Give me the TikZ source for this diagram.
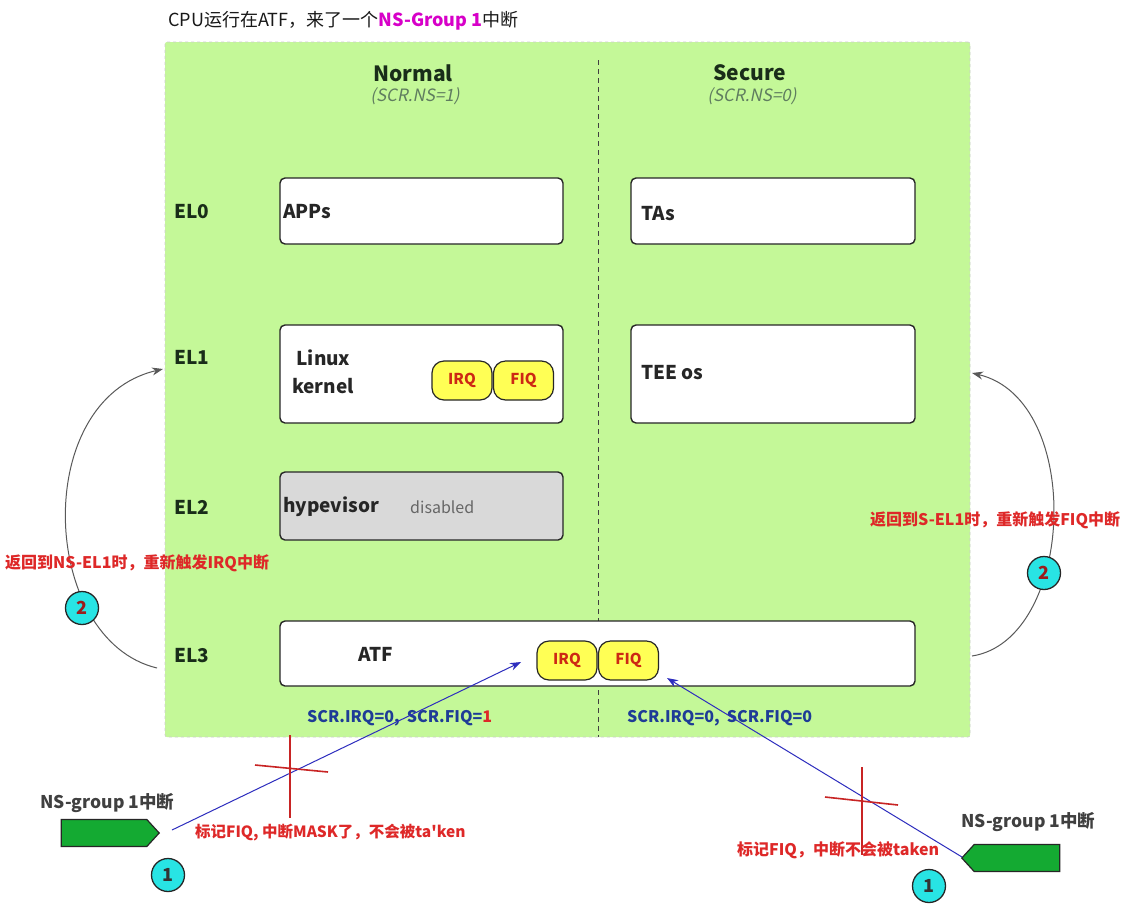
\documentclass[tikz,border=0pt]{standalone}
\usepackage{fontspec}
\setmainfont{Noto Sans CJK SC}[AutoFakeSlant=0.2]
\usetikzlibrary{arrows.meta,shapes.symbols}
\definecolor{panelgreen}{RGB}{196,248,152}
\definecolor{darktxt}{RGB}{25,45,25}
\definecolor{subtxt}{RGB}{95,125,95}
\definecolor{pillyellow}{RGB}{255,255,85}
\definecolor{pilltxt}{RGB}{205,40,20}
\definecolor{bluetxt}{RGB}{30,60,150}
\definecolor{redtxt}{RGB}{222,40,40}
\definecolor{cyanc}{RGB}{40,228,228}
\definecolor{arrowgreen}{RGB}{20,170,50}
\definecolor{hypgray}{RGB}{217,217,217}
\definecolor{lineblue}{RGB}{45,45,190}
\definecolor{magtxt}{RGB}{215,0,200}
\tikzset{
  box/.style={draw=black!85, line width=1.4pt, rounded corners=5pt, fill=white, inner sep=0pt},
  pill/.style={draw=black!85, line width=1.2pt, rounded corners=12pt, fill=pillyellow, text=pilltxt,
    font=\fontsize{15}{15}\selectfont\bfseries, minimum width=60pt, minimum height=39pt, inner sep=0pt},
  ellabel/.style={font=\fontsize{19}{19}\selectfont\bfseries, text=darktxt},
  boxtxt/.style={font=\fontsize{19}{28}\selectfont\bfseries, text=black!85, anchor=west, align=left, inner sep=0pt},
  hdr/.style={font=\fontsize{21}{21}\selectfont\bfseries, text=darktxt},
  subhdr/.style={font=\fontsize{17}{17}\selectfont\itshape, text=subtxt},
  scrtxt/.style={font=\fontsize{16}{16}\selectfont\bfseries, text=bluetxt, anchor=west, inner sep=0pt},
  redlbl/.style={font=\fontsize{16}{16}\selectfont\bfseries, text=redtxt, anchor=west, inner sep=0pt},
  numc/.style={circle, draw=black!85, line width=1.3pt, fill=cyanc, minimum size=33pt, inner sep=0pt,
    font=\fontsize{18}{18}\selectfont\bfseries, text=black!80},
  irqsrc/.style={signal, draw=black!85, line width=1.2pt, fill=arrowgreen, minimum width=98pt,
    minimum height=27pt, inner sep=0pt, signal pointer angle=95},
  srclbl/.style={font=\fontsize{17.5}{17.5}\selectfont\bfseries, text=black!75, anchor=west, inner sep=0pt},
  retarrow/.style={draw=black!65, line width=1pt, -{Stealth[length=11pt,width=8pt]}},
  blarrow/.style={draw=lineblue, line width=1pt, -{Stealth[length=11pt,width=8pt]}},
  cross/.style={draw=redtxt!90!black, line width=1.6pt}
}
\begin{document}
\begin{tikzpicture}[x=1pt,y=-1pt]
\useasboundingbox (0,0) rectangle (1132,906);
\fill[white] (0,0) rectangle (1132,906);
% title
\node[anchor=west, inner sep=0pt, font=\fontsize{18}{18}\selectfont, text=black!90] (title) at (168,21)
  {CPU运行在ATF，来了一个{\bfseries\color{magtxt}NS-Group 1}中断};
% panel
\node[draw=black!20, dashed, line width=0.6pt, fill=panelgreen, minimum width=805pt, minimum height=695pt,
  inner sep=0pt, rounded corners=2pt] (panel) at (567.5,389.5) {};
\draw[black!75, dashed, line width=1pt, dash pattern=on 5pt off 4pt] (598,60) -- (598,737);
% headers
\node[hdr] (normal) at (413,73) {Normal};
\node[subhdr] (normalsub) at (415,96) {(SCR.NS=1)};
\node[hdr] (secure) at (750,73) {Secure};
\node[subhdr] (securesub) at (752,96) {(SCR.NS=0)};
% EL labels
\node[ellabel] (el0) at (192,212) {EL0};
\node[ellabel] (el1) at (192,357) {EL1};
\node[ellabel] (el2) at (192,507) {EL2};
\node[ellabel] (el3) at (192,656) {EL3};
% boxes
\node[box, minimum width=283pt, minimum height=66pt] (apps) at (421.5,211) {};
\node[boxtxt] (appst) at (283,212) {APPs};
\node[box, minimum width=284pt, minimum height=66pt] (tas) at (773,211) {};
\node[boxtxt] (tast) at (641,214) {TAs};
\node[box, minimum width=283pt, minimum height=98pt] (kernel) at (421.5,374) {};
\node[boxtxt] (kernelt) at (292,372) {\ Linux\\kernel};
\node[pill] (kirq) at (462,380.5) {IRQ};
\node[pill] (kfiq) at (523.5,380.5) {FIQ};
\node[box, minimum width=284pt, minimum height=98pt] (tee) at (773,374) {};
\node[boxtxt] (teet) at (641,373) {TEE os};
\node[box, fill=hypgray, minimum width=283pt, minimum height=68pt] (hyp) at (421.5,506) {};
\node[boxtxt] (hypt) at (283,507) {hypevisor};
\node[anchor=west, inner sep=0pt, font=\fontsize{16}{16}\selectfont, text=black!60] (hypd) at (410,507) {disabled};
\node[box, minimum width=635pt, minimum height=65pt] (atf) at (597.5,653.5) {};
\node[boxtxt] (atft) at (358,654) {ATF};
\node[pill] (airq) at (567,660.5) {IRQ};
\node[pill] (afiq) at (628.5,660.5) {FIQ};
% SCR texts
\node[scrtxt] (scrl) at (307,718) {SCR.IRQ=0,\ \ SCR.FIQ={\color{redtxt}1}};
\node[scrtxt] (scrr) at (627,718) {SCR.IRQ=0,\ \ SCR.FIQ=0};
% return arrows
\coordinate (lstart) at (157,668);
\coordinate (lend) at (163,369);
\draw[retarrow] (lstart) .. controls (40,640) and (30,400) .. (lend);
\node[numc] (ltwo) at (82,608) {\textcolor{redtxt!70!black}{2}};
\node[redlbl] (lret) at (5,563) {返回到NS-EL1时，重新触发IRQ中断};
\coordinate (rstart) at (972,656);
\coordinate (rend) at (972,373);
\draw[retarrow] (rstart) .. controls (1075,640) and (1085,400) .. (rend);
\node[numc] (rtwo) at (1044,573) {\textcolor{redtxt!70!black}{2}};
\node[redlbl] (rret) at (870,520) {返回到S-EL1时，重新触发FIQ中断};
% bottom left source
\node[srclbl] (lsrct) at (40,803) {NS-group 1中断};
\node[irqsrc, signal to=east] (lsrc) at (104,833) {};
\node[numc] (lone) at (168,875) {1};
\coordinate (lbs) at (172,830);
\coordinate (lbe) at (521,662);
\draw[blarrow] (lbs) -- (lbe);
\draw[cross] (290,735) -- (290,818);
\draw[cross] (255,765) -- (328,772);
\node[redlbl, font=\fontsize{15.5}{15.5}\selectfont\bfseries] (lmask) at (195,833) {标记FIQ, 中断MASK了，不会被ta{\addfontfeatures{Ligatures=TeXOff}'}ken};
% bottom right source
\node[srclbl] (rsrct) at (961,822) {NS-group 1中断};
\node[irqsrc, signal to=west] (rsrc) at (1017,858) {};
\node[numc] (rone) at (929,886) {1};
\coordinate (rbs) at (962,857);
\coordinate (rbe) at (667,678);
\draw[blarrow] (rbs) -- (rbe);
\draw[cross] (862,767) -- (862,855);
\draw[cross] (825,797) -- (898,805);
\node[redlbl] (rnot) at (737,850) {标记FIQ，中断不会被taken};
\end{tikzpicture}
\end{document}
